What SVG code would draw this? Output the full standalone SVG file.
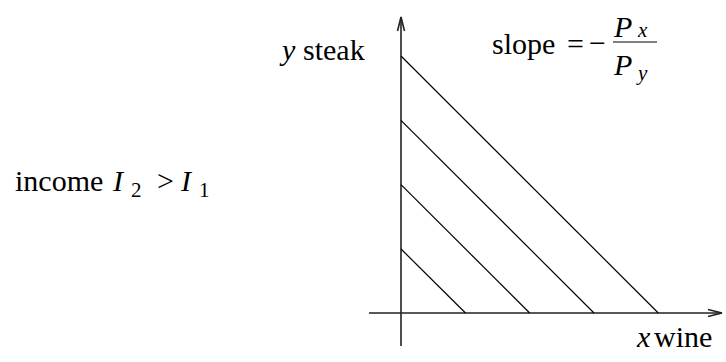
<svg xmlns="http://www.w3.org/2000/svg" width="726" height="362" viewBox="0 0 726 362">
<style>
.t{font-family:'Liberation Serif',serif;font-size:30px;font-style:normal;fill:#000}
.it{font-family:'Liberation Serif',serif;font-size:30px;font-style:italic;fill:#000}
.sub{font-size:21px}
.ax{stroke:#222;stroke-width:1.6;fill:none}
.bl{stroke:#000;stroke-width:1.2;fill:none}
</style>
<rect width="726" height="362" fill="#fff"/>
<g id="label-income">
<text class="t" x="15" y="191">income</text>
<text class="t" x="157" y="191">&gt;</text>
<text class="t sub" x="131" y="197">2</text>
<text class="t sub" x="199" y="197">1</text>
<text class="it" x="113" y="191">I</text>
<text class="it" x="181" y="191">I</text>
</g>
<g id="label-y">
<text class="t" x="303" y="60">steak</text>
<text class="it" x="282" y="60">y</text>
</g>
<g id="label-x">
<text class="t" x="654" y="347">wine</text>
<text class="it" x="637" y="347">x</text>
</g>
<g id="label-slope">
<text class="t" x="492" y="54">slope</text>
<text class="t" x="567" y="54">=</text>
<text class="t" x="589" y="53">−</text>
<line class="bl" x1="613" y1="42" x2="657" y2="42"/>
<text class="it" x="614" y="37">P</text>
<text class="it sub" x="638" y="37">x</text>
<text class="it" x="614" y="75">P</text>
<text class="it sub" x="638" y="80">y</text>
</g>
<g id="axes">
<line class="ax" x1="401" y1="346" x2="401" y2="17"/>
<polyline class="ax" points="397.5,31 401,17 404.5,31"/>
<line class="ax" x1="369" y1="313" x2="722" y2="313"/>
<polyline class="ax" points="708,309.5 722,313 708,316.5"/>
</g>
<g id="budget-lines">
<line class="bl" x1="401" y1="56" x2="658.3" y2="313"/>
<line class="bl" x1="401" y1="120.3" x2="594" y2="313"/>
<line class="bl" x1="401" y1="184.6" x2="529.7" y2="313"/>
<line class="bl" x1="401" y1="249" x2="465.5" y2="313"/>
</g>
</svg>
